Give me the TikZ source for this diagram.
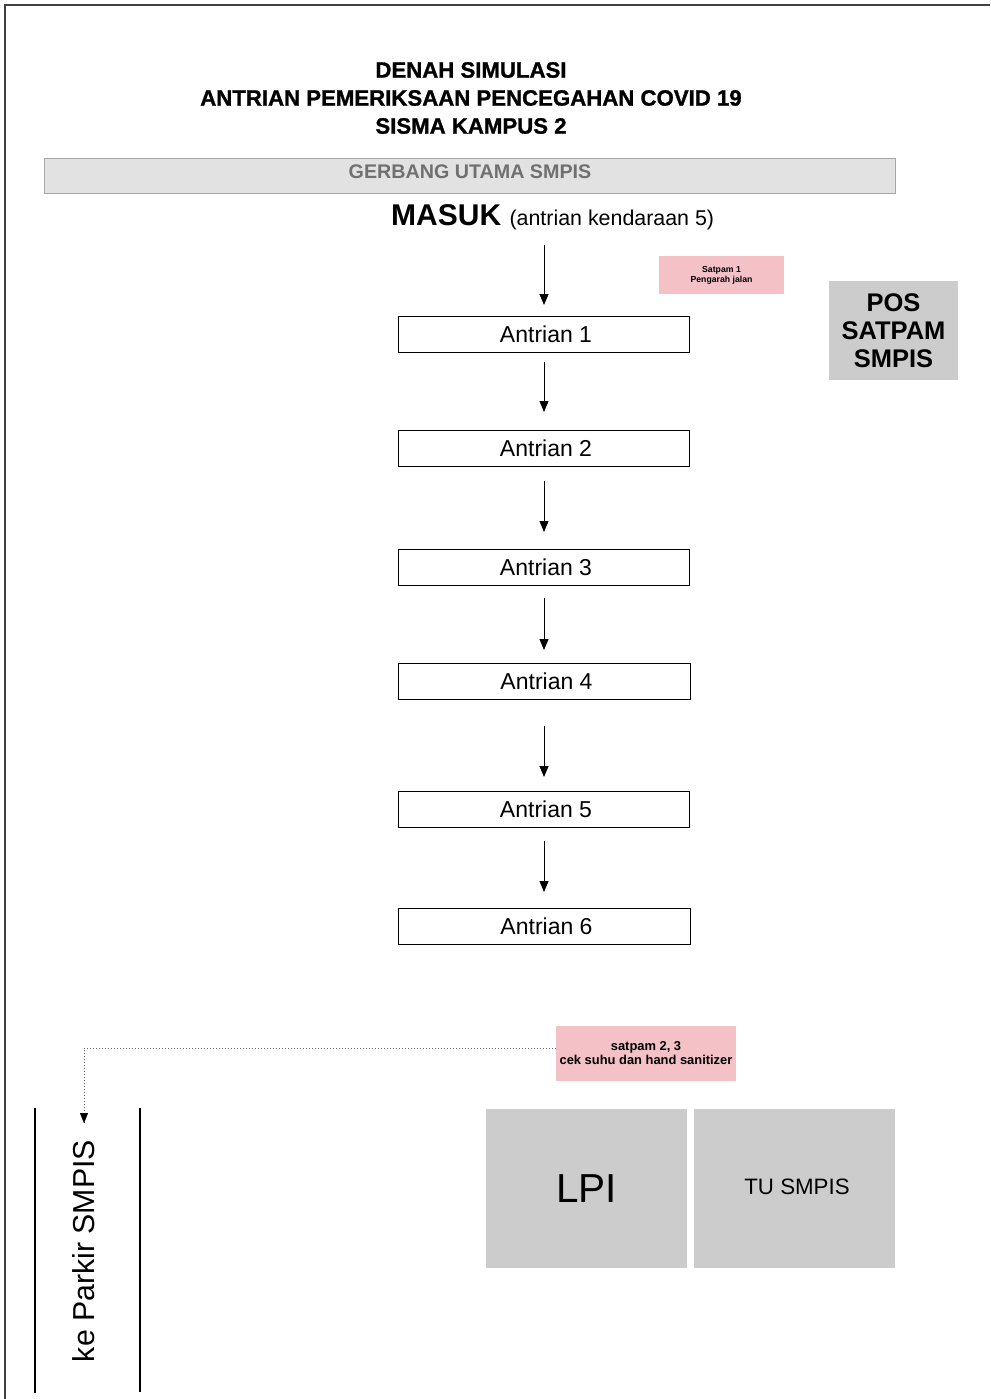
\documentclass[tikz,border=0pt]{standalone}
\usepackage{fontspec}
\setmainfont{Liberation Sans}
\newfontfamily\heavyfont[FakeBold=1.2]{Liberation Sans Bold}
\usetikzlibrary{arrows.meta}
\definecolor{pinkbox}{HTML}{F4C1C6}
\definecolor{graybox}{HTML}{CCCCCC}
\definecolor{gatefill}{HTML}{E2E2E2}
\definecolor{gatetext}{HTML}{707070}
\begin{document}
\begin{tikzpicture}[x=1pt,y=-1pt,
  qbox/.style={draw=black, line width=0.8pt, minimum width=291pt, minimum height=36pt, inner sep=0pt, font=\fontsize{23}{26}\selectfont},
  flow/.style={-{Triangle[width=9pt,length=11pt]}, line width=0.9pt},
  pinkstyle/.style={fill=pinkbox, draw=none, inner sep=0pt, align=center, font=\bfseries},
  grayfill/.style={fill=graybox, draw=none, inner sep=0pt, align=center}]
\useasboundingbox (0,0) rectangle (990,1399);
\fill[white] (0,0) rectangle (990,1399);
% page border
\draw[line width=1.2pt, black!75] (990,5) -- (5,5) -- (5,1399);
% title
\node (title) [align=center, font=\fontsize{22.2}{28}\heavyfont] at (471,98) {DENAH SIMULASI\\ANTRIAN PEMERIKSAAN PENCEGAHAN COVID 19\\SISMA KAMPUS 2};
% gate
\node (gate) [draw=black!35, fill=gatefill, line width=0.8pt, minimum width=851pt, minimum height=35pt, inner sep=0pt] at (469.5,175.5) {};
\node (gatelabel) [font=\fontsize{19.7}{22}\bfseries, text=gatetext] at (470,172) {GERBANG UTAMA SMPIS};
% masuk
\node (masuk) [anchor=base west, inner sep=0pt] at (391,225) {\fontsize{30}{34}\bfseries MASUK \fontsize{21.4}{24}\mdseries(antrian kendaraan 5)};
\coordinate (start) at (544,245);
% queue boxes
\node (a1) [qbox] at (543.5,334) {\hspace*{5pt}Antrian 1};
\node (a2) [qbox] at (543.5,448) {\hspace*{5pt}Antrian 2};
\node (a3) [qbox] at (543.5,567) {\hspace*{5pt}Antrian 3};
\node (a4) [qbox, minimum width=292pt] at (544,681) {\hspace*{5pt}Antrian 4};
\node (a5) [qbox] at (543.5,809) {\hspace*{5pt}Antrian 5};
\node (a6) [qbox, minimum width=292pt] at (544,926) {\hspace*{5pt}Antrian 6};
% arrows
\draw[flow] (start) -- (544,305);
\draw[flow] (544,362) -- (544,412);
\draw[flow] (544,481) -- (544,532);
\draw[flow] (544,598) -- (544,650);
\draw[flow] (544,726) -- (544,777);
\draw[flow] (544,841) -- (544,892);
% satpam 1
\node (s1) [pinkstyle, minimum width=125pt, minimum height=38pt, font=\fontsize{8.7}{10}\bfseries] at (721.5,275) {Satpam 1\\Pengarah jalan};
% pos satpam
\node (pos) [grayfill, minimum width=129pt, minimum height=99pt, font=\fontsize{25.5}{28}\bfseries] at (893.5,330.5) {POS\\SATPAM\\SMPIS};
% satpam 2,3
\node (s23) [pinkstyle, minimum width=180pt, minimum height=55pt, font=\fontsize{12.9}{14.5}\bfseries] at (646,1053) {satpam 2, 3\\cek suhu dan hand sanitizer};
% dotted connector
\coordinate (turn) at (84,1048);
\coordinate (parkir) at (84,1123);
\draw[dotted, line width=1pt, black!60] (s23.west |- 0,1048) -- (turn) -- (parkir);
\draw[-{Triangle[width=8pt,length=10pt]}, black, line width=0.1pt] (84,1116) -- (parkir);
% road lines
\draw[line width=2pt] (35,1108) -- (35,1393);
\draw[line width=2pt] (140,1108) -- (140,1392);
\node (parkirlabel) [rotate=90, font=\fontsize{30.3}{34}\selectfont] at (84,1251) {ke Parkir SMPIS};
% buildings
\node (lpi) [grayfill, minimum width=201pt, minimum height=159pt, font=\fontsize{40.5}{44}\selectfont] at (586.5,1188.5) {LPI};
\node (tu) [grayfill, minimum width=201pt, minimum height=159pt] at (794.5,1188.5) {};
\node (tulabel) [font=\fontsize{22.3}{24}\selectfont, inner sep=0pt] at (797,1187) {TU SMPIS};
\end{tikzpicture}
\end{document}
